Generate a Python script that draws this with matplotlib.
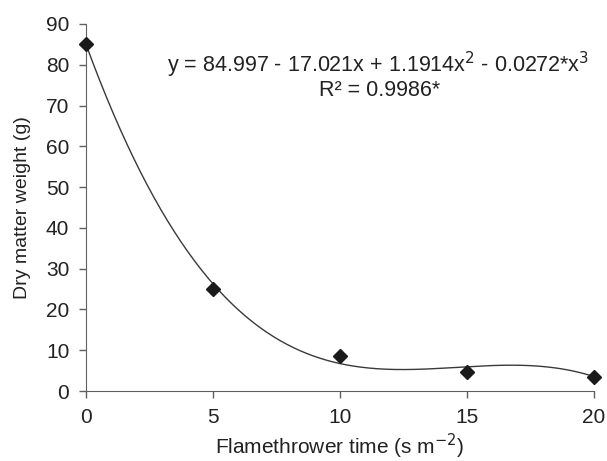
import numpy as np
import matplotlib.pyplot as plt

plt.rcParams['font.family'] = ['Liberation Sans', 'DejaVu Sans']

# observed points
time_s = [0, 5, 10, 15, 20]
dry_weight = [85.2, 25.0, 8.6, 4.6, 3.5]

# cubic fit coefficients (from the equation on the chart)
b0, b1, b2, b3 = 84.997, -17.021, 1.1914, -0.0272

x_fit = np.linspace(0, 20, 300)
y_fit = b0 + b1 * x_fit + b2 * x_fit**2 + b3 * x_fit**3

fig = plt.figure(figsize=(6.07, 4.61), dpi=100)
ax = fig.add_axes([0.1417, 0.1518, 0.8369, 0.7962])

ax.plot(x_fit, y_fit, color='#3a3a3a', lw=1.0)
ax.plot(time_s, dry_weight, linestyle='none', marker='D', ms=7.5,
        color='#1a1a1a', clip_on=False, zorder=3)

ax.set_xlim(0, 20)
ax.set_ylim(0, 90)
ax.set_xticks([0, 5, 10, 15, 20])
ax.set_yticks(range(0, 91, 10))
for s in ['top', 'right']:
    ax.spines[s].set_visible(False)
for s in ['left', 'bottom']:
    ax.spines[s].set_color('#606060')
ax.tick_params(direction='out', length=5, width=1, color='#606060',
               labelsize=15, labelcolor='#222222', pad=7)

ax.set_xlabel('Flamethrower time (s m$^{-2}$)', fontsize=15, color='#222222', labelpad=4)
ax.set_ylabel('Dry matter weight (g)', fontsize=14, color='#222222', labelpad=11)

ax.text(0.575, 0.888, 'y = 84.997 - 17.021x + 1.1914x$^{2}$ - 0.0272*x$^{3}$',
        transform=ax.transAxes, ha='center', va='center', fontsize=15.5, color='#222222')
ax.text(0.578, 0.818, 'R² = 0.9986*', transform=ax.transAxes, ha='center', va='center',
        fontsize=15.5, color='#222222')

fig.savefig('out.png', dpi=100)
